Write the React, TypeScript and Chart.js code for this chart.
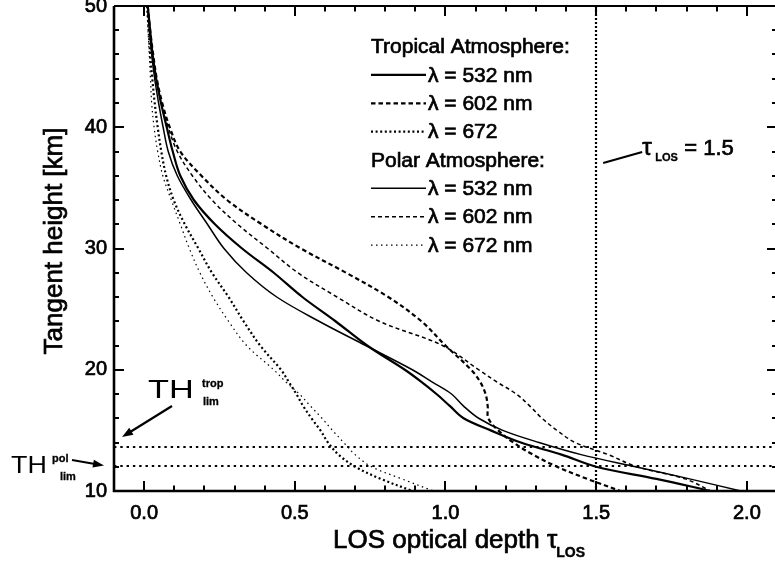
import React, { useEffect, useRef } from 'react';
import { Chart, registerables } from 'chart.js';

Chart.register(...registerables);

// Tangent heights shared by every profile [km]
const HEIGHTS_KM = [50, 48, 46, 44, 42, 40, 38, 36, 34, 32, 30, 28, 26, 24, 22, 20, 19, 18, 17, 16, 15, 14, 13, 12, 11, 10];

// LOS optical depth per profile, one value per tangent height
const TROP_532 = [0.012, 0.02, 0.028, 0.04, 0.056, 0.075, 0.095, 0.12, 0.165, 0.235, 0.325, 0.43, 0.525, 0.635, 0.74, 0.865, 0.92, 0.97, 1.015, 1.06, 1.15, 1.25, 1.385, 1.5, 1.7, 1.88];
const TROP_602 = [0.012, 0.02, 0.03, 0.042, 0.06, 0.085, 0.12, 0.19, 0.275, 0.39, 0.52, 0.67, 0.81, 0.92, 1.0, 1.085, 1.115, 1.133, 1.14, 1.142, 1.175, 1.225, 1.29, 1.37, 1.47, 1.58];
const TROP_672 = [0.01, 0.015, 0.02, 0.027, 0.035, 0.045, 0.057, 0.073, 0.098, 0.135, 0.18, 0.225, 0.28, 0.33, 0.385, 0.454, 0.48, 0.505, 0.528, 0.555, 0.585, 0.61, 0.645, 0.7, 0.785, 0.89];
const POL_532 = [0.012, 0.018, 0.025, 0.035, 0.048, 0.063, 0.08, 0.11, 0.156, 0.21, 0.265, 0.34, 0.44, 0.58, 0.735, 0.89, 0.955, 1.02, 1.06, 1.11, 1.19, 1.31, 1.45, 1.63, 1.81, 1.98];
const POL_602 = [0.012, 0.018, 0.027, 0.04, 0.057, 0.08, 0.11, 0.16, 0.225, 0.31, 0.41, 0.51, 0.64, 0.78, 0.99, 1.11, 1.17, 1.235, 1.28, 1.32, 1.37, 1.43, 1.54, 1.635, 1.795, 1.88];
const POL_672 = [0.01, 0.013, 0.017, 0.021, 0.025, 0.033, 0.045, 0.062, 0.09, 0.12, 0.15, 0.185, 0.228, 0.28, 0.34, 0.43, 0.47, 0.515, 0.552, 0.59, 0.625, 0.662, 0.7, 0.755, 0.855, 0.96];

// Axis ranges and tick labels
const X_RANGE = [-0.1, 2.1];
const Y_RANGE = [10, 50];
const X_TICKS = [0, 0.5, 1.0, 1.5, 2.0];
const Y_TICKS = [10, 20, 30, 40, 50];
const X_MINOR_STEP = 0.1;
const Y_MINOR_STEP = 2;

// Reference levels
const TAU_LIMIT = 1.5;
const TH_TROP_KM = 13.65;
const TH_POL_KM = 12.1;

const FONT = '"Liberation Sans", Arial, Helvetica, sans-serif';
const TEXT_STROKE = 0.7;

type Series = { group: string; label: string; values: number[]; width: number; dash: number[] };

const SERIES: Series[] = [
  { group: 'Tropical Atmosphere:', label: 'λ = 532 nm', values: TROP_532, width: 2.2, dash: [] },
  { group: 'Tropical Atmosphere:', label: 'λ = 602 nm', values: TROP_602, width: 2.2, dash: [4.5, 3] },
  { group: 'Tropical Atmosphere:', label: 'λ = 672', values: TROP_672, width: 2.2, dash: [2, 2.6] },
  { group: 'Polar Atmosphere:', label: 'λ = 532 nm', values: POL_532, width: 1.5, dash: [] },
  { group: 'Polar Atmosphere:', label: 'λ = 602 nm', values: POL_602, width: 1.5, dash: [4, 3] },
  { group: 'Polar Atmosphere:', label: 'λ = 672 nm', values: POL_672, width: 1.2, dash: [1.5, 3.5] },
];

// Filled text with a hairline outline so the glyphs read a little heavier
function heavyText(ctx: CanvasRenderingContext2D, str: string, x: number, y: number, stroke = TEXT_STROKE) {
  ctx.fillText(str, x, y);
  if (stroke > 0) {
    ctx.save();
    ctx.setLineDash([]);
    ctx.lineWidth = stroke;
    ctx.strokeText(str, x, y);
    ctx.restore();
  }
}

function drawArrow(ctx: CanvasRenderingContext2D, x1: number, y1: number, x2: number, y2: number, head = 11, spread = 8) {
  const a = Math.atan2(y2 - y1, x2 - x1);
  const c = Math.cos(a);
  const s = Math.sin(a);
  ctx.beginPath();
  ctx.moveTo(x1, y1);
  ctx.lineTo(x2 - c * head * 0.7, y2 - s * head * 0.7);
  ctx.stroke();
  ctx.beginPath();
  ctx.moveTo(x2, y2);
  ctx.lineTo(x2 - head * c + (spread / 2) * s, y2 - head * s - (spread / 2) * c);
  ctx.lineTo(x2 - head * c - (spread / 2) * s, y2 - head * s + (spread / 2) * c);
  ctx.closePath();
  ctx.fill();
}

// "TH" with stacked super/subscript, stretched horizontally like the rest of the lettering
function limitLabel(ctx: CanvasRenderingContext2D, x: number, base: number, size: number, stretch: number, sup: string, supX: number, subX: number) {
  ctx.save();
  ctx.translate(x, base);
  ctx.scale(stretch, 1);
  ctx.font = `${size}px ${FONT}`;
  ctx.fillText('TH', 0, 0);
  ctx.restore();
  ctx.font = `bold 11px ${FONT}`;
  heavyText(ctx, sup, supX, base - 11, 0.3);
  heavyText(ctx, 'lim', subX, base + 7, 0.3);
}

const decorations = {
  id: 'decorations',
  beforeDatasetsDraw(chart: any) {
    const { ctx, chartArea: area, scales } = chart;
    const xs = scales.x;
    const ys = scales.y;
    ctx.save();
    ctx.strokeStyle = '#000';
    ctx.lineCap = 'butt';
    // tau = 1.5 marker
    ctx.lineWidth = 2.2;
    ctx.setLineDash([2, 2]);
    const xl = Math.round(xs.getPixelForValue(TAU_LIMIT));
    ctx.beginPath();
    ctx.moveTo(xl, area.top);
    ctx.lineTo(xl, area.bottom);
    ctx.stroke();
    // height limits
    ctx.setLineDash([2.4, 3.9]);
    for (const h of [TH_TROP_KM, TH_POL_KM]) {
      const y = Math.round(ys.getPixelForValue(h));
      ctx.beginPath();
      ctx.moveTo(area.left, y);
      ctx.lineTo(area.right, y);
      ctx.stroke();
    }
    ctx.restore();
  },
  afterDraw(chart: any) {
    const { ctx, chartArea: area, scales } = chart;
    const xs = scales.x;
    const ys = scales.y;
    ctx.save();
    ctx.strokeStyle = '#000';
    ctx.fillStyle = '#000';
    ctx.setLineDash([]);

    // frame
    ctx.lineWidth = 2.6;
    ctx.beginPath();
    ctx.moveTo(area.left, area.top);
    ctx.lineTo(area.left, area.bottom);
    ctx.lineTo(area.right, area.bottom);
    ctx.stroke();
    ctx.lineWidth = 2;
    ctx.beginPath();
    ctx.moveTo(area.left, area.top);
    ctx.lineTo(area.right, area.top);
    ctx.lineTo(area.right, area.bottom);
    ctx.stroke();

    // inward tick marks on all four sides
    ctx.lineWidth = 2;
    for (let v = X_TICKS[0]; v <= X_TICKS[X_TICKS.length - 1] + 1e-9; v += X_MINOR_STEP) {
      const major = X_TICKS.some((t) => Math.abs(t - v) < 1e-6);
      const len = major ? 10 : 5.5;
      const x = Math.round(xs.getPixelForValue(v));
      ctx.beginPath();
      ctx.moveTo(x, area.bottom);
      ctx.lineTo(x, area.bottom - len);
      ctx.moveTo(x, area.top);
      ctx.lineTo(x, area.top + len);
      ctx.stroke();
    }
    for (let v = Y_RANGE[0]; v <= Y_RANGE[1] + 1e-9; v += Y_MINOR_STEP) {
      const major = Y_TICKS.includes(v);
      const len = major ? 10 : 5;
      const y = Math.round(ys.getPixelForValue(v));
      ctx.beginPath();
      ctx.moveTo(area.left, y);
      ctx.lineTo(area.left + len, y);
      ctx.moveTo(area.right, y);
      ctx.lineTo(area.right - len, y);
      ctx.stroke();
    }

    // axis titles
    ctx.textBaseline = 'alphabetic';
    ctx.textAlign = 'left';
    ctx.font = `26px ${FONT}`;
    const xt = 'LOS optical depth τ';
    heavyText(ctx, xt, 333, 548);
    const xtW = ctx.measureText(xt).width;
    ctx.font = `bold 14px ${FONT}`;
    heavyText(ctx, 'LOS', 333 + xtW - 1, 557, 0.4);

    ctx.save();
    ctx.translate(62, 241);
    ctx.rotate(-Math.PI / 2);
    ctx.font = `26px ${FONT}`;
    ctx.textAlign = 'center';
    heavyText(ctx, 'Tangent height [km]', 0, 0);
    ctx.restore();

    // legend
    const lx0 = 371;
    const lx1 = 426;
    const tx = 428;
    const rowH = 28.35;
    let base = 53.3;
    let group = '';
    ctx.textAlign = 'left';
    for (const s of SERIES) {
      if (s.group !== group) {
        group = s.group;
        ctx.font = `21px ${FONT}`;
        heavyText(ctx, group, lx0, base);
        base += rowH;
      }
      ctx.lineWidth = s.width;
      ctx.setLineDash(s.dash);
      ctx.beginPath();
      ctx.moveTo(lx0, base - 6.7);
      ctx.lineTo(lx1, base - 6.7);
      ctx.stroke();
      ctx.setLineDash([]);
      ctx.font = `21px ${FONT}`;
      heavyText(ctx, s.label, tx, base);
      base += rowH;
    }

    // tau limit label with leader
    ctx.lineWidth = 2;
    const xl = xs.getPixelForValue(TAU_LIMIT);
    ctx.beginPath();
    ctx.moveTo(xl + 7, 163);
    ctx.lineTo(xl + 46, 152);
    ctx.stroke();
    ctx.font = `24px ${FONT}`;
    heavyText(ctx, 'τ', xl + 46, 155);
    ctx.font = `bold 11px ${FONT}`;
    heavyText(ctx, 'LOS', xl + 59, 161, 0.3);
    ctx.font = `22px ${FONT}`;
    heavyText(ctx, '= 1.5', xl + 88, 155);

    // height-limit labels
    limitLabel(ctx, 148, 398, 26, 1.32, 'trop', 202, 203);
    ctx.lineWidth = 2.2;
    drawArrow(ctx, 172, 406, area.left + 8, ys.getPixelForValue(14.45));

    limitLabel(ctx, 11, 473, 24, 1.12, 'pol', 52, 60);
    drawArrow(ctx, 72, 460, area.left - 10, ys.getPixelForValue(TH_POL_KM));

    ctx.restore();
  },
};

export default function App() {
  const canvasRef = useRef<HTMLCanvasElement | null>(null);

  useEffect(() => {
    const canvas = canvasRef.current;
    if (!canvas) return;
    const tickFont = { family: FONT, size: 20 };
    const chart = new Chart(canvas, {
      type: 'scatter',
      data: {
        datasets: SERIES.map((s) => ({
          label: `${s.group} ${s.label}`,
          data: s.values.map((tau, i) => ({ x: tau, y: HEIGHTS_KM[i] })),
          showLine: true,
          borderColor: '#000',
          backgroundColor: '#000',
          borderWidth: s.width,
          borderDash: s.dash,
          pointRadius: 0,
          tension: 0.35,
          fill: false,
        })),
      },
      options: {
        responsive: false,
        animation: false,
        devicePixelRatio: 1,
        layout: { padding: { top: 6, right: 13, bottom: 0, left: 0 } },
        plugins: { legend: { display: false }, tooltip: { enabled: false } },
        scales: {
          x: {
            type: 'linear',
            position: 'bottom',
            min: X_RANGE[0],
            max: X_RANGE[1],
            grid: { display: false, drawTicks: false },
            border: { display: false },
            ticks: {
              color: '#000',
              font: tickFont,
              padding: 10,
              maxRotation: 0,
              autoSkip: false,
              textStrokeColor: '#000',
              textStrokeWidth: TEXT_STROKE,
              callback: (v: any) => Number(v).toFixed(1),
            },
            afterBuildTicks: (s: any) => {
              s.ticks = X_TICKS.map((value) => ({ value }));
            },
            afterFit: (s: any) => {
              s.height = 72;
              s.paddingLeft = 0;
              s.paddingRight = 0;
            },
          },
          y: {
            type: 'linear',
            position: 'left',
            min: Y_RANGE[0],
            max: Y_RANGE[1],
            grid: { display: false, drawTicks: false },
            border: { display: false },
            ticks: {
              color: '#000',
              font: tickFont,
              padding: 7,
              autoSkip: false,
              textStrokeColor: '#000',
              textStrokeWidth: TEXT_STROKE,
              callback: (v: any) => String(v),
            },
            afterBuildTicks: (s: any) => {
              s.ticks = Y_TICKS.map((value) => ({ value }));
            },
            afterFit: (s: any) => {
              s.width = 114;
              s.paddingTop = 0;
              s.paddingBottom = 0;
            },
          },
        },
      },
      plugins: [decorations],
    } as any);
    return () => chart.destroy();
  }, []);

  return (
    <div style={{ position: 'fixed', left: 0, top: 0, width: 775, height: 563, overflow: 'hidden', background: '#fff' }}>
      <canvas ref={canvasRef} width={790} height={563} style={{ display: 'block', width: 790, height: 563 }} />
    </div>
  );
}
